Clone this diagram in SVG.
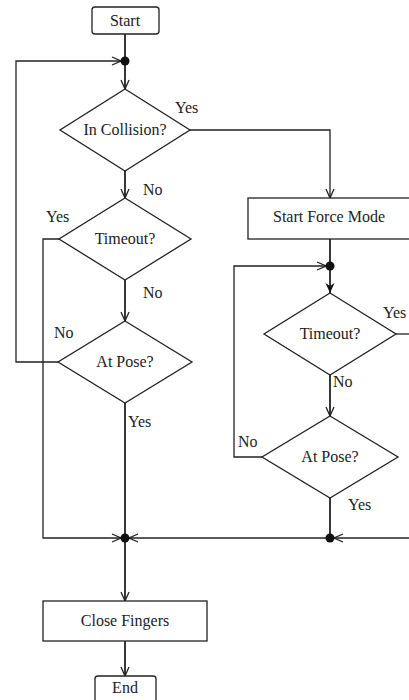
<svg xmlns="http://www.w3.org/2000/svg" width="409" height="700" viewBox="0 0 409 700">
<defs>
<style>
.n{fill:#fff;stroke:#222;stroke-width:1.3}
.t{font-family:"Liberation Serif","Times New Roman",serif;font-size:16px;fill:#222}
.m{text-anchor:middle}
.c{fill:none;stroke:#222;stroke-width:1.3}
.v{fill:none;stroke:#222;stroke-width:1.8}
.d{fill:#111}
</style>
<marker id="a" viewBox="0 0 10 10" refX="10" refY="5" markerWidth="10" markerHeight="10" markerUnits="userSpaceOnUse" orient="auto">
<path d="M1,1 L10,5 L1,9" fill="none" stroke="#222" stroke-width="1.3"/>
</marker>
<marker id="f" viewBox="0 0 10 10" refX="10" refY="5" markerWidth="10" markerHeight="10" markerUnits="userSpaceOnUse" orient="auto">
<path d="M0,0.5 L10,5 L0,9.5 L3,5 Z" fill="#111"/>
</marker>
</defs>
<g id="connectors">
<path class="v" d="M125,34 V61"/>
<path class="c" d="M58,362 H16 V61 H121" marker-end="url(#a)"/>
<path class="v" d="M125,61 V89" marker-end="url(#a)"/>
<path class="c" d="M190,130 H330 V198" marker-end="url(#a)"/>
<path class="v" d="M125,171 V198" marker-end="url(#a)"/>
<path class="c" d="M59,239 H43 V538 H121" marker-end="url(#a)"/>
<path class="v" d="M125,280 V321" marker-end="url(#a)"/>
<path class="v" d="M125,403 V538"/>
<path class="v" d="M330,239 V266"/>
<path class="c" d="M262,457 H234 V266 H326" marker-end="url(#a)"/>
<path class="v" d="M330,266 V293" marker-end="url(#f)"/>
<path class="c" d="M396,334 H412"/>
<path class="v" d="M330,375 V416" marker-end="url(#a)"/>
<path class="v" d="M330,498 V538"/>
<path class="c" d="M412,538 H334" marker-end="url(#a)"/>
<path class="c" d="M330,538 H129" marker-end="url(#a)"/>
<path class="v" d="M125,538 V601" marker-end="url(#a)"/>
<path class="v" d="M125,641 V676" marker-end="url(#a)"/>
<circle class="d" cx="125" cy="61" r="4.5"/>
<circle class="d" cx="330" cy="266" r="4.5"/>
<circle class="d" cx="125" cy="538" r="4.5"/>
<circle class="d" cx="330" cy="538" r="4.5"/>
</g>
<g id="start"><rect class="n" x="92" y="7" width="67" height="27" rx="3"/><text class="t m" x="125" y="26">Start</text></g>
<g id="collision"><path class="n" d="M125,89 L190,130 L125,171 L60,130 Z"/><text class="t m" x="125" y="135">In Collision?</text></g>
<g id="timeout1"><path class="n" d="M125,198 L191,239 L125,280 L59,239 Z"/><text class="t m" x="125" y="244">Timeout?</text></g>
<g id="atpose1"><path class="n" d="M125,321 L192,362 L125,403 L58,362 Z"/><text class="t m" x="125" y="367">At Pose?</text></g>
<g id="forcemode"><rect class="n" x="248" y="198" width="166" height="41"/><text class="t m" x="329" y="222">Start Force Mode</text></g>
<g id="timeout2"><path class="n" d="M330,293 L396,334 L330,375 L264,334 Z"/><text class="t m" x="330" y="339">Timeout?</text></g>
<g id="atpose2"><path class="n" d="M330,416 L398,457 L330,498 L262,457 Z"/><text class="t m" x="330" y="462">At Pose?</text></g>
<g id="close"><rect class="n" x="43" y="601" width="164" height="40"/><text class="t m" x="125" y="626">Close Fingers</text></g>
<g id="end"><rect class="n" x="95" y="676" width="61" height="30" rx="3"/><text class="t m" x="125" y="693">End</text></g>
<g id="labels">
<text class="t" x="175" y="113">Yes</text>
<text class="t" x="143" y="195">No</text>
<text class="t" x="46" y="222">Yes</text>
<text class="t" x="143" y="298">No</text>
<text class="t" x="54" y="338">No</text>
<text class="t" x="128" y="427">Yes</text>
<text class="t" x="383" y="318">Yes</text>
<text class="t" x="333" y="387">No</text>
<text class="t" x="238" y="447">No</text>
<text class="t" x="348" y="510">Yes</text>
</g>
</svg>
